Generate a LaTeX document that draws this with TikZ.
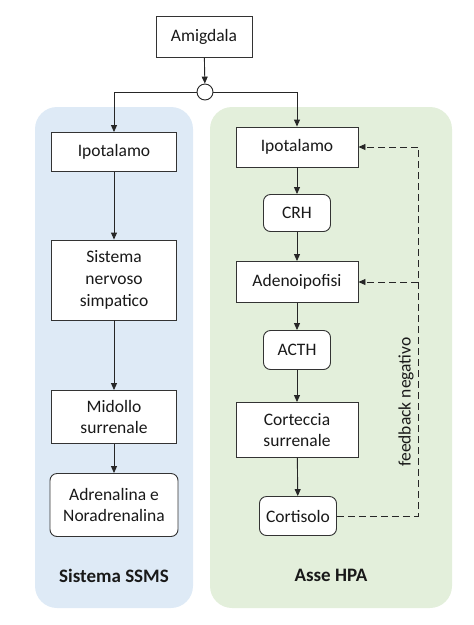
\documentclass[tikz,border=0pt]{standalone}
\usepackage{fontspec}
\setmainfont{Carlito}
\usepackage{tikz}
\usetikzlibrary{arrows.meta,positioning}
\definecolor{ssmsblue}{RGB}{222,234,246}
\definecolor{hpagreen}{RGB}{227,239,219}
\definecolor{txt}{RGB}{25,25,25}

\begin{document}
\begin{tikzpicture}[
    x=1pt, y=-1pt,
    font=\fontsize{17.5}{21.7}\selectfont, text=txt,
    panel/.style={rounded corners=22pt, draw=none},
    box/.style={draw=black!80, fill=white, line width=0.9pt, inner sep=0pt, align=center},
    hormone/.style={box, rounded corners=7pt},
    arr/.style={draw=black!85, line width=0.9pt, -{Triangle[length=7pt,width=6pt]}},
    fb/.style={draw=black!85, line width=0.9pt, dash pattern=on 7pt off 4pt},
    title/.style={font=\fontsize{19}{22}\selectfont\bfseries}
]
\useasboundingbox (0,0) rectangle (474,625);

% pannelli
\fill[panel, ssmsblue] (35,107) rectangle (193,608);
\fill[panel, hpagreen] (210,107) rectangle (452,608);

\node[box, minimum width=96pt, minimum height=41pt] (amig) at (204,37) {Amigdala};
\node[circle, draw=black!85, fill=white, line width=0.9pt, minimum size=16pt, inner sep=0pt] (jn) at (205,92) {};

% Sistema SSMS
\node[box, minimum width=125pt, minimum height=39pt] (ipoL) at (114,152) {Ipotalamo};
\node[box, minimum width=125pt, minimum height=80pt] (sns) at (114,280) {Sistema\\nervoso\\simpatico};
\node[box, minimum width=125pt, minimum height=53pt] (mid) at (114,417) {Midollo\\surrenale};
\node[hormone, minimum width=128pt, minimum height=63pt] (adr) at (114,505) {Adrenalina e\\Noradrenalina};
\node[title] (ssms) at (114,576) {Sistema SSMS};

% Asse HPA
\node[box, minimum width=122pt, minimum height=40pt] (ipoR) at (297,147) {Ipotalamo};
\node[hormone, minimum width=67pt, minimum height=37pt] (crh) at (297,213) {CRH};
\node[box, minimum width=122pt, minimum height=41pt] (adeno) at (297,282) {Adenoipofisi};
\node[hormone, minimum width=67pt, minimum height=39pt] (acth) at (297,350) {ACTH};
\node[box, minimum width=122pt, minimum height=55pt] (cort) at (297,430) {Corteccia\\surrenale};
\node[hormone, minimum width=77pt, minimum height=39pt] (cortis) at (298,516) {Cortisolo};
\node[title] (hpa) at (331,575) {Asse HPA};

\draw[arr] (amig) -- (jn);
\draw[arr] (jn.west) -| (ipoL.north);
\draw[arr] (jn.east) -| (ipoR.north);

\draw[arr] (ipoL) -- (sns);
\draw[arr] (sns) -- (mid);
\draw[arr] (mid) -- (adr);

\draw[arr] (ipoR) -- (crh);
\draw[arr] (crh) -- (adeno);
\draw[arr] (adeno) -- (acth);
\draw[arr] (acth) -- (cort);
\draw[arr] (cort) -- (cortis);

% feedback negativo
\coordinate (fbT) at (418,147);
\draw[fb] (cortis.east) -| (fbT);
\draw[fb, -{Triangle[length=7pt,width=6pt]}] (fbT) -- (ipoR.east);
\draw[fb, -{Triangle[length=7pt,width=6pt]}] (adeno.east -| fbT) -- (adeno.east);
\node[rotate=90] (fblab) at (406,402) {feedback negativo};
\end{tikzpicture}
\end{document}
